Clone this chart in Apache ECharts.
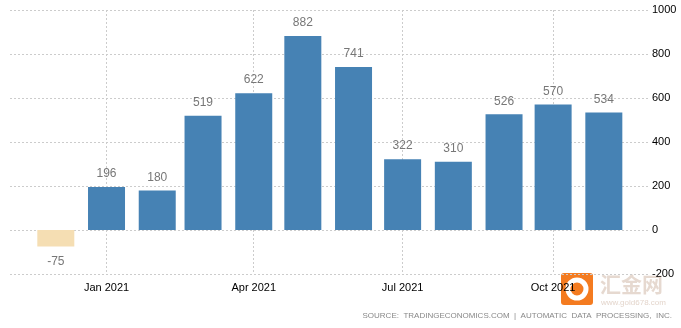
<!DOCTYPE html>
<html>
<head>
<meta charset="utf-8">
<script src="https://cdn.jsdelivr.net/npm/echarts@6/dist/echarts.min.js"></script>
<style>html,body{margin:0;padding:0;background:#fff}#c{width:681px;height:328px}</style>
</head>
<body>
<div id="c"></div>
<script>
// Data
var months = ['2020-12','2021-01','2021-02','2021-03','2021-04','2021-05','2021-06','2021-07','2021-08','2021-09','2021-10','2021-11'];
var values = [-75, 196, 180, 519, 622, 882, 741, 322, 310, 526, 570, 534];
var xTickMonths = ['2021-01','2021-04','2021-07','2021-10'];
var monthNames = ['Jan','Feb','Mar','Apr','May','Jun','Jul','Aug','Sep','Oct','Nov','Dec'];
var yTicks = [-200, 0, 200, 400, 600, 800, 1000];

function toTs(s){ var p = s.split('-'); return Date.UTC(+p[0], +p[1]-1, 1); }

var barData = months.map(function(m, i){
  var v = values[i];
  var item = { value: [toTs(m), v] };
  if (v < 0) {
    item.itemStyle = { color: '#F5DEB3' };
    item.label = { position: 'bottom', distance: 9 };
  }
  return item;
});
var tickTs = xTickMonths.map(toTs);

var chart = echarts.init(document.getElementById('c'));
chart.setOption({
  animation: false,
  grid: { left: 10, right: 33, top: 10, bottom: 54, containLabel: false },
  xAxis: {
    type: 'value',
    min: Date.UTC(2020, 10, 3),
    max: Date.UTC(2021, 10, 28),
    axisLine: { show: false },
    axisTick: { show: false, customValues: tickTs },
    axisLabel: {
      customValues: tickTs,
      color: '#000',
      fontSize: 11,
      fontFamily: 'Liberation Sans, Arial, sans-serif',
      margin: 8,
      formatter: function(v){ var d = new Date(v); return monthNames[d.getUTCMonth()] + ' ' + d.getUTCFullYear(); }
    },
    splitLine: { show: true, lineStyle: { color: '#cccccc', type: [2, 2], width: 1 } }
  },
  yAxis: {
    type: 'value',
    position: 'right',
    min: yTicks[0],
    max: yTicks[yTicks.length-1],
    interval: 200,
    axisLine: { show: false },
    axisTick: { show: false },
    axisLabel: { color: '#000', fontSize: 11, fontFamily: 'Liberation Sans, Arial, sans-serif', margin: 4,
      formatter: function(v){ return String(v); } },
    splitLine: { show: true, lineStyle: { color: '#cccccc', type: [2, 2], width: 1 } }
  },
  series: [{
    type: 'bar',
    data: barData,
    barWidth: 37,
    itemStyle: { color: '#4682B4' },
    label: {
      show: true,
      position: 'top',
      distance: 7,
      color: '#777777',
      fontSize: 12,
      fontFamily: '"Liberation Sans", Arial, sans-serif',
      formatter: function(p){ return p.value[1]; }
    }
  }],
  graphic: [
    {
      type: 'text', right: 9, top: 312,
      style: { text: 'SOURCE:  TRADINGECONOMICS.COM  |  AUTOMATIC  DATA  PROCESSING,  INC.', fill: '#888', font: '8px "Liberation Sans", Arial, sans-serif' }
    },
    { type: 'rect', left: 561, top: 273, shape: { width: 32, height: 32, r: 3 }, style: { fill: '#F47B20' } },
    { type: 'circle', shape: { cx: 577, cy: 289, r: 9 }, style: { fill: 'none', stroke: '#fff', lineWidth: 5 } },
    { type: 'text', left: 600, top: 274, style: { text: '汇金网', fill: 'rgba(200,170,150,0.45)', font: 'bold 21px "Noto Sans CJK SC", sans-serif' } },
    { type: 'text', left: 601, top: 299, style: { text: 'www.gold678.com', fill: 'rgba(200,170,150,0.5)', font: '8px "Liberation Sans", Arial, sans-serif' } }
  ]
});
</script>
</body>
</html>
